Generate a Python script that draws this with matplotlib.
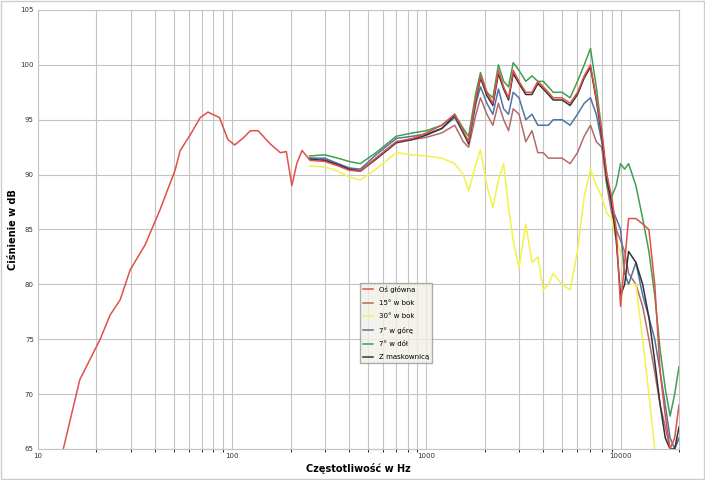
import matplotlib
matplotlib.use("Agg")
import matplotlib.pyplot as plt
import numpy as np

f_main = [13.5,16.4,20.9,23.5,26.5,29.8,35.6,42.5,50.8,54,60.7,68.5,75,86,95,103,115,124,136,157,177,190,203,215,229,252,300,350,400,457,550,700,850,1000,1200,1400,1550,1650,1800,1900,2050,2200,2350,2500,2650,2800,3000,3250,3500,3750,4000,4250,4500,5000,5500,6000,6500,7000,7500,8000,8500,9000,9500,10000,10500,11000,12000,13000,14000,15000,16000,17000,18000,19000,20000]
db_main = [65,71.3,75,77.2,78.6,81.3,83.6,86.8,90.4,92.2,93.6,95.2,95.7,95.2,93.2,92.7,93.4,94,94,92.8,92,92.1,89,91,92.2,91.3,91.2,90.8,90.4,90.3,91.5,93,93.3,93.8,94.5,95.5,94,93,97,99,97.5,96.5,99.5,98,97,99.5,98.5,97.5,97.5,98.5,98,97.5,97,97,96.5,97.5,99,100,97,94,90,88,85,78,82,86,86,85.5,85,80,72,68,65,66,69]

f_hi = [250,300,350,400,457,550,700,850,1000,1200,1400,1550,1650,1800,1900,2050,2200,2350,2500,2650,2800,3000,3250,3500,3750,4000,4250,4500,5000,5500,6000,6500,7000,7500,8000,8500,9000,9500,10000,10500,11000,12000,13000,14000,15000,16000,17000,18000,19000,20000]
db_side15 = [91.5,91.4,91,90.6,90.4,91.5,93,93.2,93.4,93.8,94.5,93,92.5,95.5,97,95.5,94.5,96.5,95,94,96,95.5,93,94,92,92,91.5,91.5,91.5,91,92,93.5,94.5,93,92.5,89,86.5,85,84,83,81,80,78,75,72,69,67,65,65,66]
db_side30 = [90.8,90.7,90.3,89.8,89.5,90.5,92,91.8,91.7,91.5,91,90,88.5,91,92.3,89,87,89.5,91,87,84,81.5,85.5,82,82.5,79.5,80,81,80,79.5,83,88,90.5,89,88,86.5,86,84,83,81,80,80,75,70,65,63,63,63,63,63]
db_up = [91.5,91.5,91,90.6,90.5,91.8,93.3,93.5,93.7,94.2,95.2,93.8,93,96.5,98,96.5,95.5,97.8,96,95.5,97.5,97,95,95.5,94.5,94.5,94.5,95,95,94.5,95.5,96.5,97,95.5,93,90,87,86,85,81,80,82,79,77,75,72,69,66,65,66]
db_down = [91.7,91.8,91.5,91.2,91,92,93.5,93.8,94,94.5,95.5,94.2,93.5,97.5,99.3,97.5,97,100,98.5,98,100.2,99.5,98.5,99,98.5,98.5,98,97.5,97.5,97,98.5,100,101.5,98,94,89,88,89,91,90.5,91,89,86,83,79,74,70.5,68,70,72.5]
db_grille = [91.4,91.3,90.9,90.5,90.3,91.4,92.9,93.2,93.6,94.2,95.4,93.8,92.8,96.8,98.8,97.2,96.3,99.2,97.8,96.8,99.2,98.3,97.3,97.3,98.3,97.8,97.3,96.8,96.8,96.3,97.3,98.8,99.8,96.8,93.5,89.5,87.5,84,79,80,83,82,80,77,73,69,66,65,65,67]

fig = plt.figure(figsize=(7.05,4.80), dpi=100)
fig.patch.set_facecolor("white")
ax = fig.add_axes([38/705, 1-449/480, (679-38)/705, (449-10)/480])
ax.set_xscale("log")
ax.set_xlim(10,20000)
ax.set_ylim(65,105)
ax.set_yticks(range(65,106,5))
ax.grid(True, which="both", color="#c4c4c4", lw=0.8)
ax.set_axisbelow(True)
for s in ax.spines.values():
    s.set_color("#c4c4c4")
ax.tick_params(labelsize=5, length=0, colors="#333333", pad=3)
ax.xaxis.set_major_formatter(matplotlib.ticker.FuncFormatter(lambda v,p: f"{int(v)}"))
ax.xaxis.set_minor_formatter(matplotlib.ticker.NullFormatter())

lw=1.1
ax.plot(f_hi, db_side15, color="#b46a6a", lw=lw, label="15° w bok")
ax.plot(f_hi, db_side30, color="#f2f24a", lw=lw, label="30° w bok")
ax.plot(f_hi, db_up, color="#4f74a8", lw=lw, label="7° w górę")
ax.plot(f_hi, db_down, color="#3f9f50", lw=lw, label="7° w dół")
ax.plot(f_hi, db_grille, color="#333333", lw=lw, label="Z maskownicą")
ax.plot(f_main, db_main, color="#e0504a", lw=lw, label="Oś główna")
h,l = ax.get_legend_handles_labels()
order=[5,0,1,2,3,4]
leg = ax.legend([h[i] for i in order],[l[i] for i in order], loc="upper left",
                bbox_to_anchor=((360-38)/641, 1-(283-10)/439), fontsize=5,
                frameon=True, fancybox=False, handlelength=1.5, labelspacing=1.05,
                borderaxespad=0)
leg.get_frame().set_facecolor("#f0efe6"); leg.get_frame().set_edgecolor("#999999")
ax.set_xlabel("Częstotliwość w Hz", fontsize=7, fontweight="bold", labelpad=3)
ax.set_ylabel("Ciśnienie w dB", fontsize=7, fontweight="bold", labelpad=2)
fig.patches.append(matplotlib.patches.Rectangle((0.002,0.002),0.996,0.996, transform=fig.transFigure, fill=False, ec="#cccccc", lw=1))
fig.savefig("out.png", dpi=100)
